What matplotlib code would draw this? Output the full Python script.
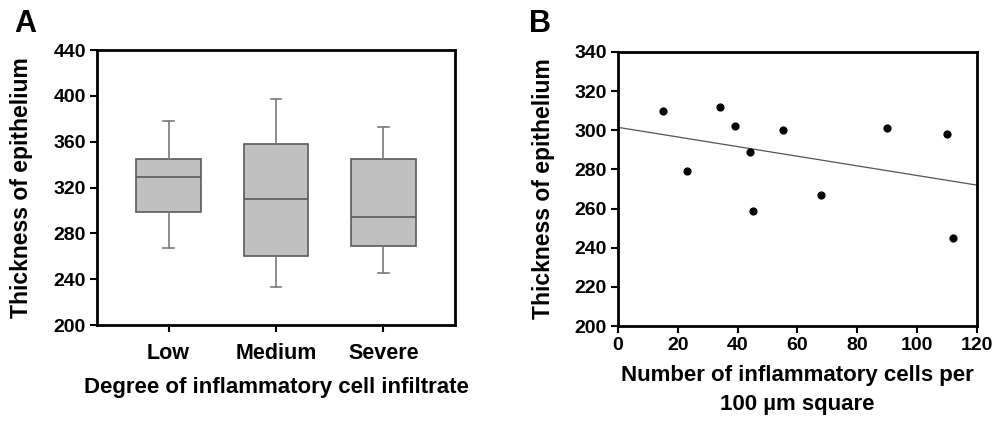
import matplotlib
matplotlib.use('Agg')
import matplotlib.pyplot as plt
import numpy as np

plt.rcParams['font.family'] = ['Liberation Sans', 'DejaVu Sans']
plt.rcParams['font.weight'] = 'bold'

# panel A: box summaries (whisker low, q1, median, q3, whisker high)
groups = ['Low', 'Medium', 'Severe']
whislo = [267, 233, 245]
q1 = [299, 260, 269]
med = [329, 310, 294]
q3 = [345, 358, 345]
whishi = [378, 397, 373]

# panel B: scatter and fitted line
cells = [15, 23, 34, 39, 44, 45, 55, 68, 90, 110, 112]
thick = [310, 279, 312, 302, 289, 259, 300, 267, 301, 298, 245]
fit_intercept = 301.5
fit_slope = -0.246

fig = plt.figure(figsize=(9.95, 4.22), dpi=100)
W, H = 995, 422
axA = fig.add_axes([97 / W, 1 - 325 / H, (455 - 97) / W, (325 - 50) / H])
axB = fig.add_axes([618 / W, 1 - 326 / H, (977 - 618) / W, (326 - 52) / H])

stats = []
for i in range(len(groups)):
    stats.append(dict(whislo=whislo[i], q1=q1[i], med=med[i], q3=q3[i],
                      whishi=whishi[i], fliers=[], label=groups[i]))
box_col = '#5a5a5a'
axA.bxp(stats, positions=[1, 2, 3], widths=0.6, patch_artist=True,
        showfliers=False, capwidths=0.1,
        boxprops=dict(facecolor='#c0c0c0', edgecolor=box_col, linewidth=1.2),
        medianprops=dict(color=box_col, linewidth=1.2),
        whiskerprops=dict(color='#7a7a7a', linewidth=1.2),
        capprops=dict(color='#7a7a7a', linewidth=1.2))
axA.set_xlim(1 / 3, 11 / 3)
axA.set_ylim(200, 440)
axA.set_yticks(np.arange(200, 441, 40))
axA.set_xlabel('Degree of inflammatory cell infiltrate', fontsize=16, fontweight='bold', labelpad=9)
axA.set_ylabel('Thickness of epithelium', fontsize=16.5, fontweight='bold')
axA.yaxis.set_label_coords(-0.178, 0.5)
axA.tick_params(axis='x', labelsize=15.5, length=5, width=1.5, pad=8)
axA.tick_params(axis='y', labelsize=14, length=5, width=1.5, pad=3)

axB.scatter(cells, thick, s=24, color='black', zorder=3)
xs = np.array([0, 120])
axB.plot(xs, fit_intercept + fit_slope * xs, color='#555555', linewidth=0.9)
axB.set_xlim(0, 120)
axB.set_ylim(200, 340)
axB.set_xticks(np.arange(0, 121, 20))
axB.set_yticks(np.arange(200, 341, 20))
axB.set_xlabel('Number of inflammatory cells per\n100 µm square', fontsize=16, fontweight='bold', labelpad=8, linespacing=1.5)
axB.set_ylabel('Thickness of epithelium', fontsize=16.5, fontweight='bold')
axB.yaxis.set_label_coords(-0.175, 0.5)
axB.tick_params(axis='both', labelsize=14, length=5, width=1.5, pad=3)

for ax in (axA, axB):
    for s in ax.spines.values():
        s.set_linewidth(2)
    for lbl in ax.get_xticklabels() + ax.get_yticklabels():
        lbl.set_fontweight('bold')

fig.text(14 / W, 1 - 24 / H, 'A', fontsize=22, fontweight='bold', va='center')
fig.text(529 / W, 1 - 24 / H, 'B', fontsize=22, fontweight='bold', va='center')

fig.savefig('out.png', dpi=100)
